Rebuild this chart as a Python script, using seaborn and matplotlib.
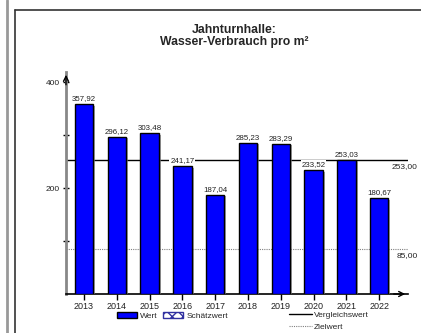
import matplotlib
matplotlib.use("Agg")
import matplotlib.pyplot as plt
import matplotlib.patheffects as pe
import matplotlib.transforms as mtransforms
from matplotlib.lines import Line2D
from matplotlib.patches import Patch
import seaborn as sns
import pandas as pd

# --- Daten ---
years = ["2013", "2014", "2015", "2016", "2017", "2018", "2019", "2020", "2021", "2022"]
values = [357.92, 296.12, 303.48, 241.17, 187.04, 285.23, 283.29, 233.52, 253.03, 180.67]
vergleichswert = 253.00
zielwert = 85.00
title = "Jahnturnhalle:\nWasser-Verbrauch pro m²"

def de(v):
    # deutsches Zahlenformat
    return f"{v:.2f}".replace(".", ",")

sns.set_theme(style="white")
plt.rcParams["font.family"] = ["Liberation Sans", "DejaVu Sans"]

W, H = 421, 333
fig = plt.figure(figsize=(W / 100, H / 100), dpi=100)
ax = fig.add_axes([66 / W, 39 / H, (408 - 66) / W, (294 - 72) / H])

df = pd.DataFrame({"Jahr": years, "Wert": values})
sns.barplot(data=df, x="Jahr", y="Wert", color="#0000FF", saturation=1,
            edgecolor="black", linewidth=1, width=0.56, ax=ax, zorder=3)

for p in ax.patches:
    p.set_path_effects([pe.SimplePatchShadow(offset=(1.5, -1), shadow_rgbFace="gray", alpha=0.7),
                        pe.Normal()])

# Vergleichs- und Zielwert
ax.axhline(vergleichswert, color="black", lw=1, zorder=1)
ax.axhline(zielwert, color="gray", lw=0.8, ls=(0, (1, 1)), zorder=1)
trans = mtransforms.blended_transform_factory(ax.transAxes, ax.transData)
ax.text(0.953, vergleichswert - 6, de(vergleichswert), transform=trans, ha="left", va="top",
        fontsize=6, color="#222222", clip_on=False)
ax.text(0.968, zielwert - 5, de(zielwert), transform=trans, ha="left", va="top",
        fontsize=6, color="#222222", clip_on=False)

ax.bar_label(ax.containers[0], labels=[de(v) for v in values], padding=1.5, fontsize=5.7,
             color="#222222", zorder=4,
             bbox=dict(boxstyle="square,pad=0.1", fc="white", ec="none"))

ax.set_ylim(0, 419)
ax.set_xlim(-0.55, 9.88)
ax.set_yticks([100, 200, 300, 400])
ax.set_yticklabels(["", "200", "", "400"])
ax.set_xlabel("")
ax.set_ylabel("")
ax.tick_params(axis="y", left=True, direction="inout", length=5, width=1, color="black",
               labelsize=6, pad=2, labelcolor="#222222")
ax.tick_params(axis="x", bottom=True, direction="out", length=4, width=1, color="black",
               labelsize=6.5, pad=2, labelcolor="#222222")

for s in ["top", "right"]:
    ax.spines[s].set_visible(False)
ax.spines["left"].set_color("#888888")
ax.spines["left"].set_linewidth(2)
ax.spines["bottom"].set_color("black")
ax.spines["bottom"].set_linewidth(1.2)

# Pfeile an den Achsen
ax.annotate("", xy=(0, 1.0), xytext=(0, 0.93), xycoords="axes fraction",
            arrowprops=dict(arrowstyle="->", color="black", lw=1, mutation_scale=9))
ax.annotate("", xy=(1.0, 0), xytext=(0.95, 0), xycoords="axes fraction",
            arrowprops=dict(arrowstyle="->", color="black", lw=1, mutation_scale=9))

fig.text(234 / W, 1 - 24 / H, title, ha="center", va="top", fontweight="bold",
         fontsize=8.8, linespacing=1.05)

# Legenden
leg1 = fig.legend(handles=[Patch(fc="#0000FF", ec="black", label="Wert"),
                           Patch(fc="white", ec="#3030a0", hatch="xxx", label="Schätzwert")],
                  loc="center left", bbox_to_anchor=(117 / W, 1 - 316 / H), ncol=2,
                  frameon=False, fontsize=6, handlelength=2.4, handleheight=0.8,
                  columnspacing=0.6, handletextpad=0.4, borderpad=0, borderaxespad=0)
leg2 = fig.legend(handles=[Line2D([], [], color="black", lw=1, label="Vergleichswert"),
                           Line2D([], [], color="gray", lw=0.8, ls=(0, (1, 1)), label="Zielwert")],
                  loc="upper left", bbox_to_anchor=(289 / W, 1 - 311 / H), ncol=1,
                  frameon=False, fontsize=6, handlelength=2.7, handletextpad=0.3,
                  labelspacing=0.55, borderpad=0, borderaxespad=0)

# Rahmen
fig.add_artist(Line2D([6.5 / W, 6.5 / W], [0, 1], transform=fig.transFigure, color="#999999", lw=2))
fig.add_artist(Line2D([15 / W, 15 / W], [0, 1 - 10 / H], transform=fig.transFigure, color="#333333", lw=1.2))
fig.add_artist(Line2D([15 / W, 1], [1 - 10 / H, 1 - 10 / H], transform=fig.transFigure, color="#333333", lw=1.2))

fig.savefig("out.png", dpi=100, facecolor="white")
